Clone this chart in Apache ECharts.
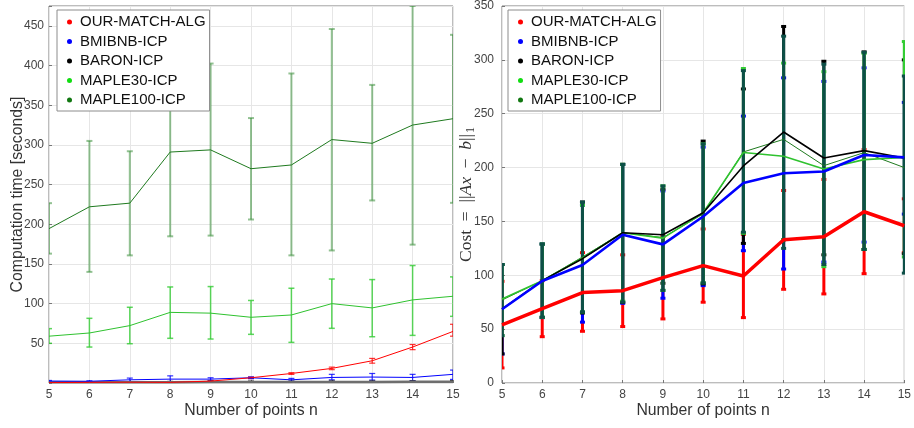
<!DOCTYPE html>
<html>
<head>
<meta charset="utf-8">
<script src="https://cdn.jsdelivr.net/npm/echarts@6/dist/echarts.min.js"></script>
<style>html,body{margin:0;padding:0;background:#fff}#c{width:914px;height:428px}</style>
</head>
<body>
<div id="c"></div>
<script>
const nPoints = [5,6,7,8,9,10,11,12,13,14,15];
const seriesNames = ['OUR-MATCH-ALG','BMIBNB-ICP','BARON-ICP','MAPLE30-ICP','MAPLE100-ICP'];
const leftTicks = [50,100,150,200,250,300,350,400,450];

// Left: computation time [seconds]
const timeOur    = [0.5,0.8,1.0,0.8,2.4,6.6,12,18.4,28,45.3,65];
const timeOurLo  = [0.3,0.5,0.7,0.5,1.8,5.6,10.8,16.8,25,42,59];
const timeOurHi  = [0.8,1.1,1.4,1.2,3.2,7.6,13,20,31,48.5,74];
const timeBmi    = [2.5,2.2,4.0,4.9,4.9,6.6,4.0,7.0,7.5,7.0,10.9];
const timeBmiLo  = [1.5,1.5,1.5,1.5,2.5,5.5,2.0,4.0,3.7,3.0,4.5];
const timeBmiHi  = [3.2,2.8,6.2,9.0,6.6,7.6,5.8,10.9,12,10.9,16.3];
const timeBaron  = [0.8,0.9,1.0,1.1,1.2,1.3,1.3,1.4,1.4,1.5,1.6];
const timeBaronLo= [0.3,0.3,0.4,0.4,0.5,0.5,0.5,0.6,0.6,0.6,0.7];
const timeBaronHi= [1.5,1.6,1.8,2.0,2.2,2.4,2.4,2.6,2.6,2.8,3.0];
const timeM30    = [59,63,72.3,89,88,82.8,85.7,100,94.6,104.7,109.3];
const timeM30Lo  = [50,45.3,49.5,56.3,55.4,61.3,51.2,68.9,58.3,60,84];
const timeM30Hi  = [68.5,81.5,95.4,121,121.5,104,119.4,131,130.3,148,133.7];
const timeM100   = [194.5,222,226.6,291,293.7,270,274.7,306.7,302,325,333];
const timeM100Lo = [163,140,160.8,184.8,185.7,206,160.8,167,230,174.3,227];
const timeM100Hi = [226.6,305,292,397,402.5,333.8,390,446,375.6,475,438.7];

// Right: cost ||Ax-b||_1
const costOur    = [54,69,84,85.7,97.8,109,99.3,133,135.7,159,146];
const costOurLo  = [14,43,48,52.4,59.5,75,60.7,87,82.7,101.5,121];
const costOurHi  = [94.4,95,121,119,136,143,138,178.7,189,216.7,171];
const costBmi    = [68.5,94.7,109.5,137.6,128.7,154.6,185.7,194.7,196.3,211.7,209.5];
const costBmiLo  = [27,60.7,56.5,74,78.7,90.4,122.8,105.8,112.3,130.8,156.8];
const costBmiHi  = [110,129,165,202.8,178.3,219,247.8,283.3,280,292.6,260.5];
const costBaron  = [68.5,95,115.4,139.5,137.6,158,201.5,233,208.9,215.7,208.9];
const costBaronLo= [27,61,65,75,92.6,92,129.6,133,119,124,120];
const costBaronHi= [110,129,168,203,180,224.6,273,331,298.7,307.4,300];
const costM30    = [78,95,116,139.5,134.5,158,214,210.5,198.7,207.4,209.3];
const costM30Lo  = [44,61,66,76,86,93,139,133,108,124,117];
const costM30Hi  = [110,129,165,203,183,222,292,297,289,306,317];
const costM100   = [77,95,117,139.5,135,157,214.5,226.2,201.8,213.9,200];
const costM100Lo = [44,61,66,75,86,93,140,125,110,124,102];
const costM100Hi = [110,129,168,203,183,222,290,322,296,307,285];

const pairs = (ys) => nPoints.map((x,i)=>[x, ys[i]]);
const triples = (lo, hi) => nPoints.map((x,i)=>[x, lo[i], hi[i]]);

function errSeries(name, idx, lo, hi, color, width, cap, opacity){
  return {
    type:'custom', name:name, xAxisIndex:idx, yAxisIndex:idx, z:1, clip:true,
    data: triples(lo, hi),
    encode:{x:0, y:[1,2]},
    renderItem: function(params, api){
      const x = api.value(0);
      const p1 = api.coord([x, api.value(1)]);
      const p2 = api.coord([x, api.value(2)]);
      const st = {stroke:color, lineWidth:width, opacity:opacity};
      return {type:'group', children:[
        {type:'line', shape:{x1:p1[0],y1:p1[1],x2:p2[0],y2:p2[1]}, style:st},
        {type:'line', shape:{x1:p1[0]-cap,y1:p1[1],x2:p1[0]+cap,y2:p1[1]}, style:st},
        {type:'line', shape:{x1:p2[0]-cap,y1:p2[1],x2:p2[0]+cap,y2:p2[1]}, style:st}
      ]};
    }
  };
}
function lineSeries(name, idx, ys, color, width, z){
  return {type:'line', name:name, xAxisIndex:idx, yAxisIndex:idx, data:pairs(ys),
    symbol:'none', z:z, lineStyle:{color:color, width:width}, itemStyle:{color:color}};
}

const legendColors = ['#ff0000','#0000ff','#000000','#11dd11','#117711'];
function legend(left){
  return {
    orient:'vertical', left:left, top:10, icon:'circle', itemWidth:5, itemHeight:5,
    itemGap:3.5, padding:[4,4,3,10], backgroundColor:'#fff', borderColor:'#8c8c8c', borderWidth:1,
    selectedMode:false,
    textStyle:{fontFamily:'Liberation Sans, Arial', fontSize:15, color:'#111', lineHeight:16, padding:[0,0,0,3]},
    data: seriesNames.map((n,i)=>({name:n, itemStyle:{color:legendColors[i]}}))
  };
}
const labelFont = {fontFamily:'Liberation Sans, Arial', fontSize:12, color:'#444'};
const splitL = {show:true, lineStyle:{color:'#e6e6e6', width:1}};
const tickS = {show:true, inside:true, length:3, lineStyle:{color:'#777'}};
const nameFont = {fontFamily:'Liberation Sans, Arial', fontSize:15.8, color:'#333'};

const chart = echarts.init(document.getElementById('c'), null, {renderer:'canvas'});
chart.setOption({
  animation:false,
  backgroundColor:'#fff',
  grid:[
    {left:49, top:6, width:404, bottom:45, show:true, borderColor:'#7a7a7a', borderWidth:1, backgroundColor:'transparent'},
    {left:502, top:6, right:8, bottom:45, show:true, borderColor:'#7a7a7a', borderWidth:1, backgroundColor:'transparent'}
  ],
  legend:[legend(57), legend(508)],
  xAxis:[0,1].map(i=>({
    type:'value', gridIndex:i, min:5, max:15, interval:1,
    name:'Number of points n', nameLocation:'middle', nameGap:20, nameMoveOverlap:false,
    nameTextStyle:nameFont,
    axisLine:{show:false}, axisTick:tickS, splitLine:splitL,
    axisLabel:Object.assign({margin:6}, labelFont)
  })),
  yAxis:[
    {type:'value', gridIndex:0, min:0, max:475, interval:50,
     name:'Computation time [seconds]', nameLocation:'middle', nameGap:23, nameRotate:90, nameMoveOverlap:false,
     nameTextStyle:nameFont,
     axisLine:{show:false}, axisTick:tickS, splitLine:splitL,
     axisLabel:Object.assign({margin:5, formatter:(v)=> leftTicks.indexOf(v)>=0 ? String(v) : ''}, labelFont)},
    {type:'value', gridIndex:1, min:0, max:350, interval:50,
     name:'{r|Cost  =  ||}{i|Ax}{r|  −  }{i|b}{r|||}{s|1}', nameLocation:'middle', nameGap:25, nameRotate:90, nameMoveOverlap:false,
     nameTextStyle:{fontFamily:'Liberation Serif, serif', fontSize:17.5, color:'#333',
       rich:{
         r:{fontFamily:'Liberation Serif, serif', fontSize:17.5, color:'#333'},
         i:{fontFamily:'Liberation Serif, serif', fontSize:17.5, fontStyle:'italic', color:'#333'},
         s:{fontFamily:'Liberation Serif, serif', fontSize:12, color:'#333', padding:[9,0,0,1]}
       }},
     axisLine:{show:false}, axisTick:tickS, splitLine:splitL,
     axisLabel:Object.assign({margin:8}, labelFont)}
  ],
  series:[
    // left error bars
    errSeries(seriesNames[4],0,timeM100Lo,timeM100Hi,'#3a8f3a',2,3,0.55),
    errSeries(seriesNames[3],0,timeM30Lo,timeM30Hi,'#33cc33',1.5,3,0.8),
    errSeries(seriesNames[0],0,timeOurLo,timeOurHi,'#ff0000',1.2,3,0.8),
    errSeries(seriesNames[1],0,timeBmiLo,timeBmiHi,'#0000ff',1.2,3,0.8),
    errSeries(seriesNames[2],0,timeBaronLo,timeBaronHi,'#000000',1.2,3,0.8),
    // left lines
    lineSeries(seriesNames[4],0,timeM100,'#1f7a1f',1,3),
    lineSeries(seriesNames[3],0,timeM30,'#2fc22f',1,3),
    lineSeries(seriesNames[2],0,timeBaron,'#6e6e6e',2.5,3),
    lineSeries(seriesNames[1],0,timeBmi,'#0000ff',1,3),
    lineSeries(seriesNames[0],0,timeOur,'#ff0000',1,3),
    // right error bars
    errSeries(seriesNames[0],1,costOurLo,costOurHi,'#ff0000',3,2.5,1),
    errSeries(seriesNames[1],1,costBmiLo,costBmiHi,'#0000ff',3,2.5,1),
    errSeries(seriesNames[2],1,costBaronLo,costBaronHi,'#000000',3,2.5,1),
    errSeries(seriesNames[3],1,costM30Lo,costM30Hi,'#33cc33',3,2.5,1),
    errSeries(seriesNames[4],1,costM100Lo,costM100Hi,'#0d4f47',3,2.5,1),
    // right lines
    lineSeries(seriesNames[4],1,costM100,'#1f7a1f',1,3),
    lineSeries(seriesNames[3],1,costM30,'#2fc22f',1.6,3),
    lineSeries(seriesNames[2],1,costBaron,'#000000',1.6,3),
    lineSeries(seriesNames[1],1,costBmi,'#0000ff',2.6,4),
    lineSeries(seriesNames[0],1,costOur,'#ff0000',3.5,5)
  ]
});
</script>
</body>
</html>
